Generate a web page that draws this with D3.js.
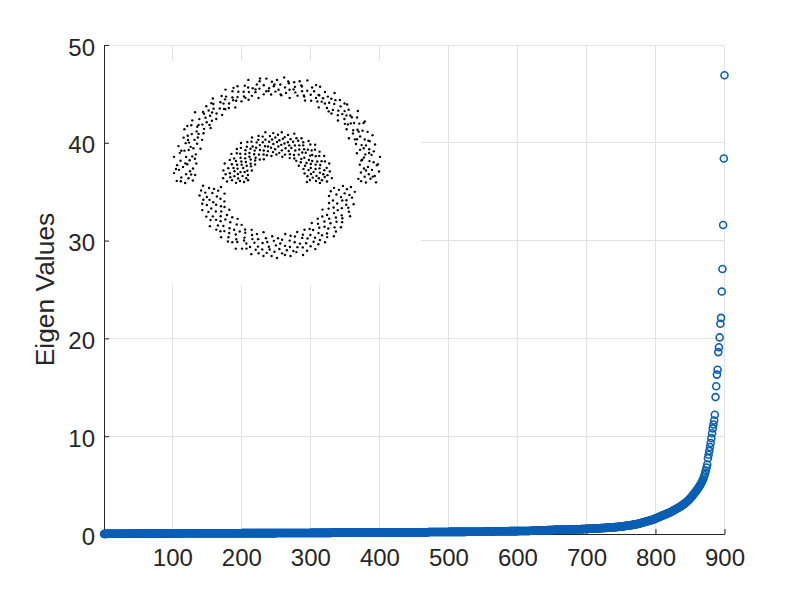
<!DOCTYPE html>
<html>
<head>
<meta charset="utf-8">
<script src="https://cdn.jsdelivr.net/npm/d3@7"></script>
<style>
  html, body { margin: 0; padding: 0; background: #fff; }
  svg { display: block; font-family: "Liberation Sans", Arial, Helvetica, sans-serif; }
</style>
</head>
<body>
<svg id="chart" width="800" height="600"></svg>
<script>
// sorted eigen values, index 1..900, 25 per row
const eigenValues = [
  0.00,0.01,0.01,0.01,0.01, 0.02,0.02,0.02,0.02,0.02, 0.02,0.02,0.02,0.02,0.02, 0.03,0.03,0.03,0.03,0.03, 0.03,0.03,0.03,0.03,0.03,
  0.03,0.03,0.03,0.03,0.03, 0.03,0.03,0.03,0.03,0.03, 0.03,0.03,0.03,0.04,0.04, 0.04,0.04,0.04,0.04,0.04, 0.04,0.04,0.04,0.04,0.04,
  0.04,0.04,0.04,0.04,0.04, 0.04,0.04,0.04,0.04,0.04, 0.04,0.04,0.04,0.04,0.04, 0.04,0.04,0.04,0.04,0.04, 0.04,0.04,0.04,0.04,0.04,
  0.04,0.04,0.04,0.04,0.04, 0.04,0.04,0.04,0.04,0.04, 0.05,0.05,0.05,0.05,0.05, 0.05,0.05,0.05,0.05,0.05, 0.05,0.05,0.05,0.05,0.05,
  0.05,0.05,0.05,0.05,0.05, 0.05,0.05,0.05,0.05,0.05, 0.05,0.05,0.07,0.07,0.07, 0.07,0.07,0.07,0.07,0.07, 0.07,0.07,0.07,0.07,0.07,
  0.07,0.07,0.07,0.07,0.07, 0.07,0.07,0.07,0.07,0.07, 0.07,0.07,0.07,0.07,0.07, 0.07,0.07,0.07,0.07,0.07, 0.07,0.07,0.07,0.07,0.07,
  0.08,0.08,0.08,0.08,0.08, 0.08,0.08,0.08,0.08,0.08, 0.08,0.08,0.08,0.08,0.08, 0.08,0.08,0.08,0.08,0.08, 0.08,0.08,0.08,0.08,0.08,
  0.08,0.08,0.08,0.08,0.08, 0.08,0.08,0.08,0.08,0.08, 0.08,0.08,0.08,0.08,0.08, 0.08,0.08,0.08,0.08,0.08, 0.08,0.08,0.08,0.08,0.08,
  0.09,0.09,0.09,0.09,0.09, 0.09,0.09,0.09,0.09,0.09, 0.09,0.09,0.09,0.09,0.09, 0.09,0.09,0.09,0.09,0.09, 0.09,0.09,0.09,0.09,0.09,
  0.09,0.09,0.09,0.09,0.09, 0.09,0.09,0.09,0.09,0.09, 0.09,0.09,0.09,0.09,0.09, 0.09,0.09,0.09,0.09,0.09, 0.09,0.09,0.09,0.09,0.09,
  0.10,0.10,0.10,0.10,0.10, 0.10,0.10,0.10,0.10,0.10, 0.10,0.10,0.10,0.10,0.10, 0.10,0.10,0.10,0.10,0.10, 0.10,0.10,0.10,0.10,0.10,
  0.10,0.10,0.10,0.10,0.10, 0.10,0.10,0.10,0.10,0.10, 0.10,0.10,0.10,0.10,0.10, 0.10,0.10,0.10,0.10,0.10, 0.10,0.10,0.10,0.10,0.10,
  0.11,0.11,0.11,0.11,0.11, 0.11,0.11,0.11,0.11,0.11, 0.11,0.11,0.11,0.11,0.11, 0.11,0.11,0.11,0.11,0.11, 0.11,0.11,0.11,0.11,0.11,
  0.11,0.11,0.11,0.11,0.11, 0.14,0.14,0.14,0.14,0.14, 0.14,0.14,0.14,0.14,0.14, 0.14,0.14,0.14,0.14,0.14, 0.14,0.14,0.14,0.14,0.14,
  0.14,0.14,0.14,0.14,0.14, 0.14,0.14,0.14,0.14,0.14, 0.14,0.14,0.14,0.14,0.14, 0.14,0.14,0.14,0.14,0.14, 0.14,0.14,0.14,0.14,0.14,
  0.15,0.15,0.15,0.15,0.15, 0.15,0.15,0.15,0.15,0.15, 0.15,0.15,0.15,0.15,0.15, 0.15,0.15,0.15,0.15,0.15, 0.15,0.15,0.15,0.15,0.15,
  0.15,0.15,0.15,0.15,0.15, 0.15,0.15,0.15,0.15,0.15, 0.15,0.15,0.15,0.15,0.15, 0.15,0.15,0.15,0.15,0.15, 0.15,0.15,0.15,0.15,0.15,
  0.16,0.16,0.16,0.16,0.16, 0.16,0.16,0.16,0.16,0.16, 0.16,0.16,0.16,0.16,0.16, 0.16,0.16,0.16,0.16,0.16, 0.16,0.16,0.16,0.16,0.16,
  0.17,0.17,0.17,0.17,0.17, 0.17,0.17,0.17,0.17,0.17, 0.17,0.17,0.17,0.17,0.17, 0.17,0.17,0.17,0.17,0.17, 0.21,0.21,0.21,0.21,0.21,
  0.21,0.21,0.21,0.21,0.21, 0.21,0.21,0.21,0.21,0.21, 0.21,0.21,0.21,0.21,0.21, 0.21,0.21,0.21,0.21,0.21, 0.21,0.21,0.21,0.21,0.21,
  0.22,0.22,0.22,0.22,0.22, 0.22,0.22,0.22,0.22,0.22, 0.22,0.22,0.22,0.22,0.22, 0.22,0.22,0.22,0.22,0.22, 0.22,0.22,0.22,0.22,0.22,
  0.23,0.23,0.23,0.23,0.23, 0.23,0.23,0.23,0.23,0.23, 0.23,0.23,0.23,0.23,0.23, 0.23,0.23,0.23,0.23,0.23, 0.23,0.23,0.23,0.23,0.23,
  0.24,0.24,0.24,0.24,0.24, 0.24,0.24,0.24,0.24,0.24, 0.24,0.24,0.24,0.24,0.24, 0.28,0.28,0.28,0.28,0.28, 0.28,0.28,0.28,0.28,0.28,
  0.28,0.28,0.28,0.28,0.28, 0.28,0.28,0.28,0.28,0.28, 0.28,0.28,0.29,0.29,0.29, 0.29,0.29,0.29,0.29,0.29, 0.29,0.29,0.29,0.29,0.29,
  0.30,0.30,0.30,0.30,0.30, 0.30,0.30,0.30,0.30,0.30, 0.30,0.30,0.30,0.30,0.30, 0.30,0.30,0.30,0.33,0.33, 0.33,0.33,0.33,0.33,0.33,
  0.34,0.34,0.35,0.35,0.35, 0.36,0.36,0.36,0.37,0.37, 0.37,0.38,0.38,0.38,0.38, 0.39,0.39,0.39,0.40,0.40, 0.40,0.40,0.41,0.41,0.41,
  0.41,0.41,0.42,0.42,0.42, 0.42,0.43,0.43,0.43,0.43, 0.43,0.44,0.44,0.44,0.44, 0.44,0.45,0.45,0.45,0.45, 0.45,0.46,0.46,0.46,0.46,
  0.46,0.47,0.47,0.47,0.47, 0.47,0.48,0.48,0.48,0.48, 0.48,0.49,0.49,0.49,0.49, 0.49,0.50,0.50,0.50,0.50, 0.51,0.51,0.51,0.51,0.52,
  0.52,0.52,0.53,0.53,0.53, 0.54,0.54,0.54,0.55,0.55, 0.55,0.56,0.56,0.56,0.57, 0.57,0.58,0.58,0.59,0.59, 0.60,0.60,0.61,0.61,0.62,
  0.62,0.63,0.63,0.64,0.64, 0.65,0.65,0.66,0.66,0.67, 0.67,0.68,0.68,0.69,0.69, 0.70,0.70,0.71,0.72,0.72, 0.73,0.74,0.74,0.75,0.76,
  0.77,0.78,0.79,0.80,0.81, 0.82,0.83,0.84,0.85,0.86, 0.87,0.88,0.89,0.90,0.91, 0.92,0.93,0.95,0.96,0.97, 0.99,1.00,1.01,1.03,1.04,
  1.06,1.08,1.10,1.12,1.14, 1.16,1.18,1.20,1.22,1.24, 1.26,1.28,1.30,1.32,1.34, 1.36,1.38,1.40,1.42,1.44, 1.46,1.49,1.52,1.55,1.58,
  1.61,1.64,1.67,1.70,1.73, 1.76,1.79,1.82,1.85,1.88, 1.91,1.94,1.97,2.00,2.03, 2.06,2.09,2.12,2.15,2.18, 2.21,2.24,2.28,2.32,2.36,
  2.40,2.44,2.48,2.52,2.56, 2.60,2.64,2.68,2.72,2.76, 2.80,2.85,2.90,2.95,3.00, 3.05,3.10,3.16,3.22,3.28, 3.34,3.40,3.47,3.54,3.62,
  3.70,3.78,3.86,3.95,4.04, 4.13,4.22,4.31,4.40,4.50, 4.60,4.70,4.80,4.92,5.04, 5.16,5.30,5.45,5.60,5.80, 6.00,6.25,6.50,6.80,7.10,
  7.75,8.10,8.50,8.90,9.30, 9.80,10.3,10.8,11.2,11.6, 12.2,14.0,15.1,16.3,16.8, 18.6,19.1,20.1,21.5,22.1, 24.8,27.1,31.6,38.4,46.9
];

const xTicks = [100, 200, 300, 400, 500, 600, 700, 800, 900];
const yTicks = [0, 10, 20, 30, 40, 50];

// inset scatter, each dot as [angle deg clockwise from 12 o'clock, radius]
const outerRing = [
  [-99,93],[-98,85],[-97,101],[-96,89],[-95,96],[-94,82],[-93,91],[-92,103],[-91,87],[-90,98],[-89,84],[-88,94],[-87,100],[-86,90],[-85,81],[-84,97],[-83,88],[-82,104],[-81,92],[-80,86],
  [-79,99],[-78,83],[-77,95],[-76,91],[-75,102],[-74,87],[-73,80],[-72,96],[-71,93],[-70,85],[-69,100],[-68,89],[-67,97],[-66,82],[-65,94],[-64,103],[-63,88],[-62,91],[-61,84],[-60,99],
  [-59,93],[-58,86],[-57,101],[-56,90],[-55,81],[-54,96],[-53,88],[-52,104],[-51,92],[-50,85],[-49,98],[-48,90],[-47,83],[-46,95],[-45,100],[-44,87],[-43,93],[-42,82],[-41,97],[-40,89],
  [-39,102],[-38,86],[-37,94],[-36,91],[-35,84],[-34,99],[-33,88],[-32,96],[-31,81],[-30,103],[-29,92],[-28,87],[-27,98],[-26,90],[-25,84],[-24,95],[-23,101],[-22,88],[-21,93],[-20,83],
  [-19,99],[-18,91],[-17,86],[-16,104],[-15,94],[-14,89],[-13,82],[-12,97],[-11,92],[-10,100],[-9,85],[-8,95],[-7,88],[-6,102],[-5,91],[-4,84],[-3,98],[-2,93],[-1,87],[0,100],
  [1,89],[2,95],[3,83],[4,103],[5,92],[6,86],[7,97],[8,90],[9,81],[10,99],[11,94],[12,88],[13,101],[14,85],[15,96],[16,91],[17,104],[18,87],[19,93],[20,82],
  [21,98],[22,90],[23,95],[24,84],[25,102],[26,89],[27,93],[28,86],[29,99],[30,92],[31,81],[32,96],[33,88],[34,103],[35,91],[36,85],[37,97],[38,93],[39,100],[40,87],
  [41,83],[42,95],[43,90],[44,101],[45,86],[46,94],[47,98],[48,82],[49,92],[50,88],[51,104],[52,95],[53,85],[54,99],[55,90],[56,93],[57,83],[58,97],[59,101],[60,88],
  [61,92],[62,86],[63,96],[64,80],[65,100],[66,91],[67,87],[68,103],[69,94],[70,84],[71,98],[72,89],[73,93],[74,102],[75,86],[76,95],[77,82],[78,99],[79,90],[80,96],
  [81,88],[82,104],[83,85],[84,93],[85,97],[86,83],[87,100],[88,91],[89,87],[90,95],[91,102],[92,84],[93,92],[94,98],[95,88],[96,94],[97,82],[98,100],[99,90],
  [-97.5,97],[-93.5,86],[-89.5,101],[-85.5,92],[-81.5,83],[-77.5,98],[-73.5,90],[-69.5,95],[-65.5,87],[-61.5,102],[-57.5,93],[-53.5,84],[-49.5,96],[-45.5,91],[-41.5,99],[-37.5,85],[-33.5,94],[-29.5,89],[-25.5,101],[-21.5,86],
  [-17.5,96],[-13.5,92],[-9.5,103],[-5.5,88],[-1.5,95],[2.5,84],[6.5,99],[10.5,91],[14.5,97],[18.5,86],[22.5,102],[26.5,93],[30.5,88],[34.5,96],[38.5,83],[42.5,100],[46.5,90],[50.5,95],[54.5,87],[58.5,103],
  [62.5,92],[66.5,85],[70.5,97],[74.5,90],[78.5,94],[82.5,86],[86.5,101],[90.5,89],[94.5,96],[98.5,85]
];
const lowerRing = [
  [89,66],[90,74],[91,57],[92,70],[93,62],[94,78],[95,54],[96,68],[97,73],[98,60],[99,76],[100,65],[101,53],[102,71],[103,67],[104,79],[105,58],[106,72],[107,63],[108,75],
  [109,55],[110,69],[111,77],[112,61],[113,66],[114,80],[115,57],[116,72],[117,64],[118,74],[119,52],[120,68],[121,76],[122,59],[123,71],[124,63],[125,78],[126,56],[127,67],[128,73],
  [129,61],[130,77],[131,54],[132,69],[133,65],[134,79],[135,58],[136,72],[137,62],[138,75],[139,53],[140,70],[141,66],[142,78],[143,60],[144,73],[145,57],[146,68],[147,76],[148,63],
  [149,71],[150,55],[151,79],[152,65],[153,74],[154,59],[155,69],[156,62],[157,77],[158,54],[159,72],[160,67],[161,80],[162,58],[163,70],[164,64],[165,75],[166,56],[167,73],[168,61],
  [169,68],[170,78],[171,53],[172,71],[173,66],[174,76],[175,59],[176,74],[177,63],[178,69],[179,57],[180,79],[181,65],[182,72],[183,60],[184,77],[185,55],[186,70],[187,67],[188,74],
  [189,62],[190,78],[191,58],[192,71],[193,64],[194,76],[195,52],[196,69],[197,73],[198,61],[199,79],[200,66],[201,56],[202,72],[203,63],[204,75],[205,59],[206,70],[207,77],[208,54],
  [209,68],[210,65],[211,80],[212,60],[213,73],[214,57],[215,71],[216,76],[217,62],[218,67],[219,78],[220,55],[221,74],[222,64],[223,70],[224,58],[225,79],[226,66],[227,72],[228,53],
  [229,75],[230,61],[231,69],[232,77],[233,56],[234,73],[235,63],[236,68],[237,80],[238,59],[239,71],[240,65],[241,76],[242,54],[243,72],[244,62],[245,78],[246,67],[247,57],[248,74],
  [249,60],[250,70],[251,79],[252,64],[253,55],[254,73],[255,66],[256,77],[257,58],[258,69],[259,75],[260,61],[261,71],[262,53],[263,78],[264,65],[265,72],[266,59],[267,76],[268,63],
  [269,68],[270,56],[271,74]
];
const innerRing = [
  [-92,41],[-91,33],[-90,50],[-89,37],[-88,45],[-87,29],[-86,54],[-85,39],[-84,47],[-83,31],[-82,43],[-81,52],[-80,35],[-79,48],[-78,40],[-77,55],[-76,30],[-75,44],[-74,38],[-73,51],
  [-72,34],[-71,46],[-70,42],[-69,56],[-68,32],[-67,49],[-66,37],[-65,44],[-64,28],[-63,53],[-62,40],[-61,47],[-60,35],[-59,50],[-58,42],[-57,31],[-56,55],[-55,38],[-54,45],[-53,33],
  [-52,51],[-51,41],[-50,48],[-49,29],[-48,54],[-47,36],[-46,44],[-45,39],[-44,52],[-43,32],[-42,47],[-41,42],[-40,56],[-39,34],[-38,49],[-37,38],[-36,45],[-35,30],[-34,53],[-33,41],
  [-32,46],[-31,35],[-30,51],[-29,43],[-28,28],[-27,55],[-26,39],[-25,48],[-24,33],[-23,44],[-22,50],[-21,37],[-20,54],[-19,31],[-18,46],[-17,41],[-16,52],[-15,35],[-14,48],[-13,40],
  [-12,56],[-11,29],[-10,45],[-9,38],[-8,51],[-7,33],[-6,47],[-5,42],[-4,54],[-3,36],[-2,49],[-1,30],[0,44],[1,52],[2,39],[3,46],[4,32],[5,55],[6,41],[7,48],
  [8,35],[9,50],[10,43],[11,28],[12,53],[13,38],[14,45],[15,31],[16,49],[17,42],[18,56],[19,36],[20,47],[21,40],[22,52],[23,33],[24,44],[25,50],[26,29],[27,54],
  [28,39],[29,46],[30,34],[31,51],[32,42],[33,48],[34,31],[35,55],[36,37],[37,45],[38,41],[39,53],[40,30],[41,47],[42,43],[43,56],[44,35],[45,49],[46,38],[47,52],
  [48,32],[49,44],[50,46],[51,28],[52,54],[53,40],[54,48],[55,36],[56,51],[57,42],[58,33],[59,55],[60,39],[61,46],[62,30],[63,50],[64,43],[65,53],[66,37],[67,47],
  [68,34],[69,56],[70,41],[71,45],[72,29],[73,52],[74,38],[75,49],[76,35],[77,44],[78,54],[79,31],[80,47],[81,40],[82,51],[83,36],[84,48],[85,42],[86,55],[87,33],
  [88,45],[89,39],[90,50],[91,30],[92,43]
];
const outerCenter = [0, 0];
const lowerCenter = [0, 19];
const innerCenter = [0, 13];

const svg = d3.select("#chart");
const ink = "#262626";
const blue = "#0a5fb4";

const x = d3.scaleLinear().domain([1, 900]).range([104, 724.5]);
const y = d3.scaleLinear().domain([0, 50]).range([534, 45]);

// grid
const grid = svg.append("g")
  .attr("stroke", "#e2e2e2")
  .attr("stroke-width", 1)
  .attr("shape-rendering", "crispEdges");

grid.selectAll("line.gx").data(xTicks).join("line")
  .attr("class", "gx")
  .attr("x1", d => x(d)).attr("x2", d => x(d))
  .attr("y1", y(50)).attr("y2", y(0));

grid.selectAll("line.gy").data(yTicks).join("line")
  .attr("class", "gy")
  .attr("x1", x(1)).attr("x2", x(900))
  .attr("y1", d => y(d)).attr("y2", d => y(d));

// inset panel (white background hides the grid)
const ix = d3.scaleLinear().domain([-170, 144]).range([107, 421]);
const iy = d3.scaleLinear().domain([-121, 128]).range([61, 285]);

svg.append("rect")
  .attr("x", ix.range()[0])
  .attr("y", iy.range()[0])
  .attr("width", ix.range()[1] - ix.range()[0])
  .attr("height", iy.range()[1] - iy.range()[0])
  .attr("fill", "#fff");

// axes
const xAxis = svg.append("g")
  .attr("transform", `translate(0,${y(0)})`)
  .call(d3.axisBottom(x).tickValues(xTicks).tickSizeInner(-5).tickSizeOuter(0).tickPadding(15));

const yAxis = svg.append("g")
  .attr("transform", `translate(${x(1)},0)`)
  .call(d3.axisLeft(y).tickValues(yTicks).tickSizeInner(-5).tickSizeOuter(0).tickPadding(9));

[xAxis, yAxis].forEach(g => {
  g.attr("font-size", 24)
    .attr("font-family", "'Liberation Sans', Arial, Helvetica, sans-serif");
  g.selectAll("path, line").attr("stroke", ink);
  g.selectAll("text").attr("fill", ink);
});
yAxis.selectAll("text").attr("dy", "0.42em");

// inset dots
const rings = [[outerRing, outerCenter], [lowerRing, lowerCenter], [innerRing, innerCenter]];
const dots = rings.flatMap(([pts, c]) => pts.map(([a, r]) => {
  const p = d3.pointRadial(a * Math.PI / 180, r);
  return [c[0] + p[0], c[1] + p[1]];
}));

svg.append("g").selectAll("circle").data(dots).join("circle")
  .attr("cx", d => ix(d[0]))
  .attr("cy", d => iy(d[1]))
  .attr("r", 1.2)
  .attr("fill", "#000");

// eigen values
svg.append("g").selectAll("circle").data(eigenValues).join("circle")
  .attr("cx", (d, i) => x(i + 1))
  .attr("cy", d => y(d))
  .attr("r", 3.5)
  .attr("fill", "none")
  .attr("stroke", blue)
  .attr("stroke-width", 1.6);

// y label
svg.append("text")
  .attr("transform", `translate(54,${(y(0) + y(50)) / 2}) rotate(-90)`)
  .attr("text-anchor", "middle")
  .attr("font-size", 26.4)
  .attr("fill", ink)
  .text("Eigen Values");
</script>
</body>
</html>
